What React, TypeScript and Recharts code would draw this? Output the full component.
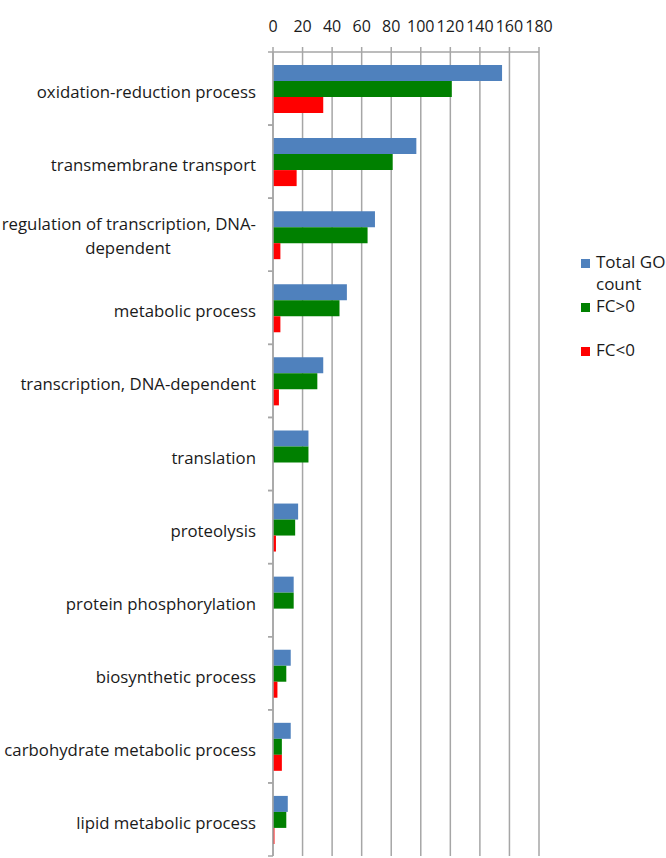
import { Bar, BarChart, CartesianGrid, XAxis, YAxis } from "recharts";

const categories = [
  "oxidation-reduction process",
  "transmembrane transport",
  "regulation of transcription, DNA-\ndependent",
  "metabolic process",
  "transcription, DNA-dependent",
  "translation",
  "proteolysis",
  "protein phosphorylation",
  "biosynthetic process",
  "carbohydrate metabolic process",
  "lipid metabolic process",
];
const totalGo = [155, 97, 69, 50, 34, 24, 17, 14, 12, 12, 10];
const fcUp = [121, 81, 64, 45, 30, 24, 15, 14, 9, 6, 9];
const fcDown = [34, 16, 5, 5, 4, 0, 2, 0, 3, 6, 1];
const xTicks = [0, 20, 40, 60, 80, 100, 120, 140, 160, 180];

const series = [
  { key: "total", name: "Total GO count", color: "#4f81bd" },
  { key: "up", name: "FC>0", color: "#008000" },
  { key: "down", name: "FC<0", color: "#ff0000" },
];

const data = categories.map((name, i) => ({
  name,
  total: totalGo[i],
  up: fcUp[i],
  down: fcDown[i],
}));

const FONT = "'Open Sans', 'Noto Sans', sans-serif";
const GRID = "#a6a6a6";
const INK = "#1a1a1a";

// category label, right aligned; also draws the small marks at band edges like Excel does
function CategoryTick({ x, y, payload }: any) {
  const lines = String(payload.value).split("\n");
  const half = payload.offset ?? 0;
  return (
    <g>
      <line x1={x + 12} x2={x + 17} y1={y - half} y2={y - half} stroke={GRID} strokeWidth={1.5} />
      <line x1={x + 12} x2={x + 17} y1={y + half} y2={y + half} stroke={GRID} strokeWidth={1.5} />
      {lines.length === 1 ? (
        <text x={x} y={y + 9.5} textAnchor="end" fontSize={16.8} fontFamily={FONT} fill={INK}>
          {lines[0]}
        </text>
      ) : (
        <g fontSize={16.8} fontFamily={FONT} fill={INK}>
          <text x={x} y={y - 5} textAnchor="end">{lines[0]}</text>
          <text x={x - 128} y={y + 19} textAnchor="middle">{lines[1]}</text>
        </g>
      )}
    </g>
  );
}

function SideLegend() {
  return (
    <div
      style={{
        position: "absolute",
        left: 581,
        top: 254,
        width: 90,
        fontFamily: FONT,
        fontSize: 17,
        color: INK,
      }}
    >
      {series.map((s) => (
        <div key={s.key} style={{ display: "flex", height: 44 }}>
          <div style={{ width: 9, height: 9, background: s.color, marginTop: 5, marginRight: 6, flexShrink: 0 }} />
          <div style={{ width: 78, lineHeight: "22px", marginTop: -3 }}>{s.name}</div>
        </div>
      ))}
    </div>
  );
}

export default function App() {
  return (
    <div
      style={{
        position: "absolute",
        left: 0,
        top: 0,
        width: 666,
        height: 858,
        overflow: "hidden",
        background: "#fff",
      }}
    >
      <BarChart
        width={666}
        height={858}
        data={data}
        layout="vertical"
        margin={{ top: 22, right: 127, left: 0, bottom: 2 }}
        barSize={16}
        barGap={0}
      >
        <CartesianGrid horizontal={false} stroke={GRID} strokeWidth={1.5} />
        <XAxis
          type="number"
          orientation="top"
          domain={[0, 180]}
          ticks={xTicks}
          interval={0}
          height={30}
          tickSize={5}
          tickMargin={15}
          axisLine={{ stroke: GRID, strokeWidth: 1.5 }}
          tickLine={{ stroke: GRID, strokeWidth: 1.5 }}
          tick={{ fontSize: 16, fill: INK, fontFamily: FONT }}
        />
        <YAxis
          type="category"
          dataKey="name"
          width={273}
          interval={0}
          tickSize={5}
          tickMargin={12}
          tickLine={false}
          axisLine={{ stroke: GRID, strokeWidth: 1.5 }}
          tick={<CategoryTick />}
        />
        {series.map((s) => (
          <Bar key={s.key} dataKey={s.key} name={s.name} fill={s.color} isAnimationActive={false} />
        ))}
      </BarChart>
      <SideLegend />
    </div>
  );
}
